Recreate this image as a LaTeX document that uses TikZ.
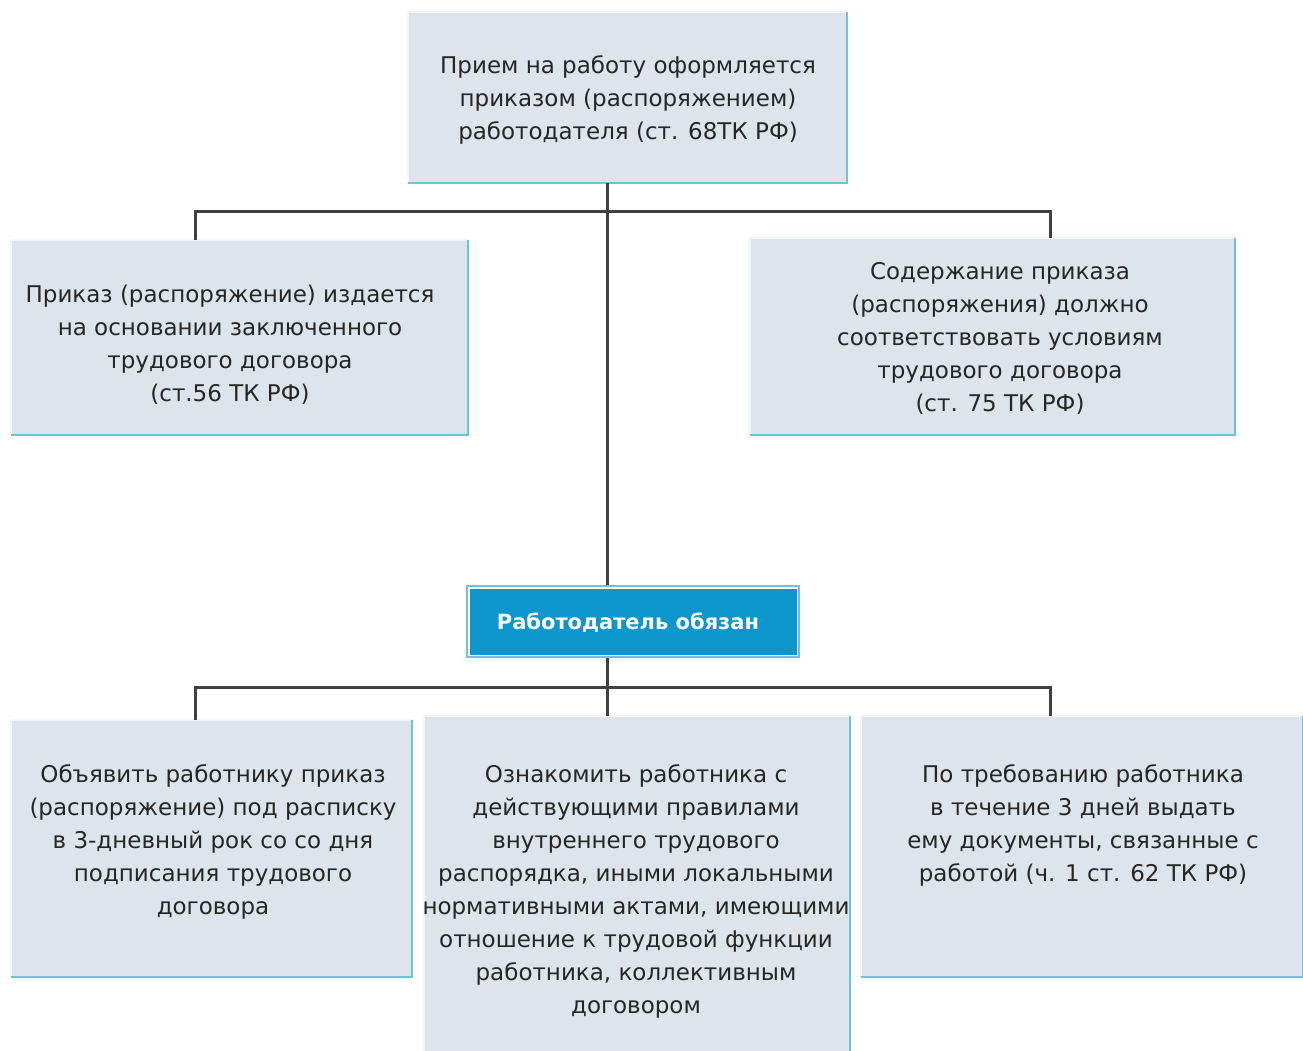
\documentclass[tikz,border=0pt]{standalone}
\usepackage{fontspec}
\setmainfont{DejaVu Sans}
\definecolor{boxfill}{HTML}{DDE4EB}
\definecolor{edgecol}{HTML}{6FC2D8}
\definecolor{litecol}{HTML}{F2F6F8}
\definecolor{bluefill}{HTML}{0C96CB}
\definecolor{linecol}{HTML}{404040}
\begin{document}
\begin{tikzpicture}[x=1pt,y=-1pt,
  boxst/.style={fill=boxfill, draw=none, inner sep=0pt, outer sep=0pt, anchor=north west},
  edgest/.style={draw=edgecol, line width=2.5pt},
  litest/.style={draw=litecol, line width=2pt},
  txt/.style={font=\fontsize{23}{33}\selectfont, align=center, text=black!85, inner sep=0pt},
  conn/.style={draw=linecol, line width=3pt}]
\useasboundingbox (0,0) rectangle (1303,1050);
% boxes
\node[boxst, minimum width=439pt, minimum height=171pt] (top) at (408,12) {};
\node[boxst, minimum width=457pt, minimum height=195pt] (lb) at (11,240) {};
\node[boxst, minimum width=485pt, minimum height=197pt] (rb) at (750,238) {};
\node[boxst, minimum width=401pt, minimum height=257pt] (bl) at (11,720) {};
\node[boxst, minimum width=426pt, minimum height=340pt] (bm) at (424,716) {};
\node[boxst, minimum width=442pt, minimum height=261pt] (br) at (861,716) {};
\foreach \b in {top,lb,rb,bl,bm,br}{
  \draw[litest] (\b.south west) -- (\b.north west) -- (\b.north east);
  \draw[edgest] (\b.north east) -- (\b.south east) -- (\b.south west);
}
% blue box
\node[fill=edgecol, inner sep=0pt, outer sep=0pt, anchor=north west, minimum width=334pt, minimum height=73pt] (emp) at (466,585) {};
\fill[white] ([shift={(2,2)}]emp.north west) rectangle ([shift={(-2,-2)}]emp.south east);
\fill[bluefill] ([shift={(3.5,3.5)}]emp.north west) rectangle ([shift={(-3.5,-3.5)}]emp.south east);
% texts
\node[txt] (ttop) at (628,100) {Прием на работу оформляется\\приказом (распоряжением)\\работодателя (ст. 68ТК РФ)};
\node[txt] (tlb) at (230,345) {Приказ (распоряжение) издается\\на основании заключенного\\трудового договора\\(ст.56 ТК РФ)};
\node[txt] (trb) at (1000,338) {Содержание приказа\\(распоряжения) должно\\соответствовать условиям\\трудового договора\\(ст. 75 ТК РФ)};
\node[txt, font=\fontsize{21}{33}\bfseries, text=white] (temp) at (628,623) {Работодатель обязан};
\node[txt] (tbl) at (213,842) {Объявить работнику приказ\\(распоряжение) под расписку\\в 3-дневный рок со со дня\\подписания трудового\\договора};
\node[txt] (tbm) at (636,891) {Ознакомить работника с\\действующими правилами\\внутреннего трудового\\распорядка, иными локальными\\нормативными актами, имеющими\\отношение к трудовой функции\\работника, коллективным\\договором};
\node[txt] (tbr) at (1083,825) {По требованию работника\\в течение 3 дней выдать\\ему документы, связанные с\\работой (ч. 1 ст. 62 ТК РФ)};
% connectors
\coordinate (j1) at (607,211);
\coordinate (j2) at (607,687);
\draw[conn] (top.south -| j1) -- (emp.north -| j1);
\draw[conn] (lb.north -| 195,0) |- (j1) -| (rb.north -| 1050,0);
\draw[conn] (emp.south -| j2) -- (bm.north -| j2);
\draw[conn] (bl.north -| 195,0) |- (j2) -| (br.north -| 1050,0);
\end{tikzpicture}
\end{document}
